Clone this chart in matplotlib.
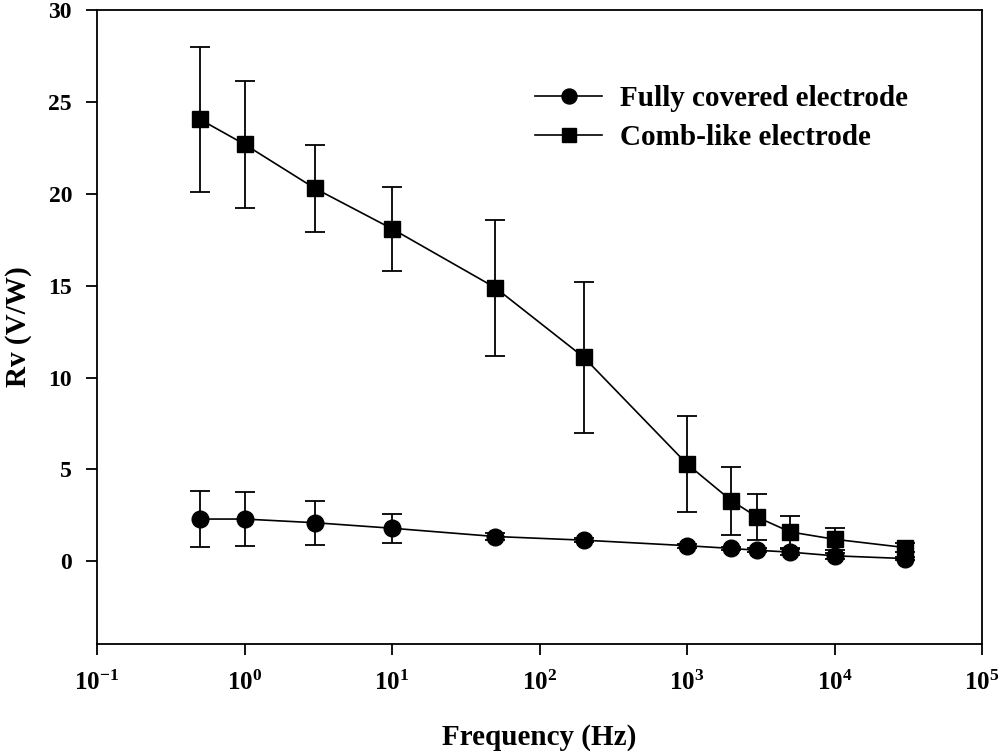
import matplotlib
matplotlib.use("Agg")
import matplotlib.pyplot as plt
from matplotlib.ticker import FixedLocator, FuncFormatter, NullLocator
import numpy as np

plt.rcParams['font.family'] = ['Liberation Serif', 'DejaVu Serif']
plt.rcParams['font.weight'] = 'bold'
plt.rcParams['mathtext.fontset'] = 'custom'
plt.rcParams['mathtext.rm'] = 'Liberation Serif:bold'
plt.rcParams['mathtext.bf'] = 'Liberation Serif:bold'

freq = [0.5, 1, 3, 10, 50, 200, 1000, 2000, 3000, 5000, 10000, 30000]
fully = [2.3, 2.3, 2.1, 1.8, 1.35, 1.15, 0.85, 0.7, 0.6, 0.5, 0.3, 0.15]
fully_err = [1.5, 1.45, 1.2, 0.8, 0.2, 0.1, 0.1, 0.1, 0.1, 0.15, 0.15, 0.1]
comb = [24.05, 22.7, 20.3, 18.1, 14.9, 11.1, 5.3, 3.3, 2.4, 1.6, 1.2, 0.75]
comb_err = [3.95, 3.45, 2.35, 2.3, 3.7, 4.1, 2.6, 1.85, 1.25, 0.85, 0.6, 0.25]
labels = ['Fully covered electrode', 'Comb-like electrode']

fig = plt.figure(figsize=(10, 7.51), dpi=100)
ax = fig.add_axes([0.097, 0.1425, 0.885, 0.844])

ax.errorbar(freq, fully, yerr=fully_err, fmt='-o', color='black', ms=12, lw=1.2,
            elinewidth=1.3, capsize=7, capthick=1.3, label=labels[0])
ax.errorbar(freq, comb, yerr=comb_err, fmt='-s', color='black', ms=11, lw=1.2,
            elinewidth=1.3, capsize=7, capthick=1.3, label=labels[1])

ax.set_xscale('log')
ax.set_xlim(0.1, 1e5)
ax.set_ylim(-4.5, 30)
ax.xaxis.set_major_locator(FixedLocator([1e-1, 1e0, 1e1, 1e2, 1e3, 1e4, 1e5]))
ax.xaxis.set_minor_locator(NullLocator())
ax.xaxis.set_major_formatter(FuncFormatter(lambda v, p: r'$\mathbf{10^{%d}}$' % int(round(np.log10(v)))))
ax.set_yticks([0, 5, 10, 15, 20, 25, 30])

ax.tick_params(axis='both', direction='out', length=8, width=1.3)
ax.tick_params(axis='x', pad=11, labelsize=18)
ax.tick_params(axis='y', pad=10, labelsize=17)
for s in ax.spines.values():
    s.set_linewidth(1.3)

ax.set_xlabel('Frequency (Hz)', fontsize=21, fontweight='bold', labelpad=21)
ax.set_ylabel('Rv (V/W)', fontsize=21, fontweight='bold', labelpad=12)

handles, labs = ax.get_legend_handles_labels()
handles = [h[0] for h in handles]
ax.legend(handles, labs, loc='upper left', bbox_to_anchor=(0.495, 0.882), frameon=False,
          handlelength=2.3, handletextpad=0.6, labelspacing=0.42, markerscale=0.9,
          borderpad=0, borderaxespad=0,
          prop={'weight': 'bold', 'size': 21})

fig.savefig('out.png', dpi=100)
